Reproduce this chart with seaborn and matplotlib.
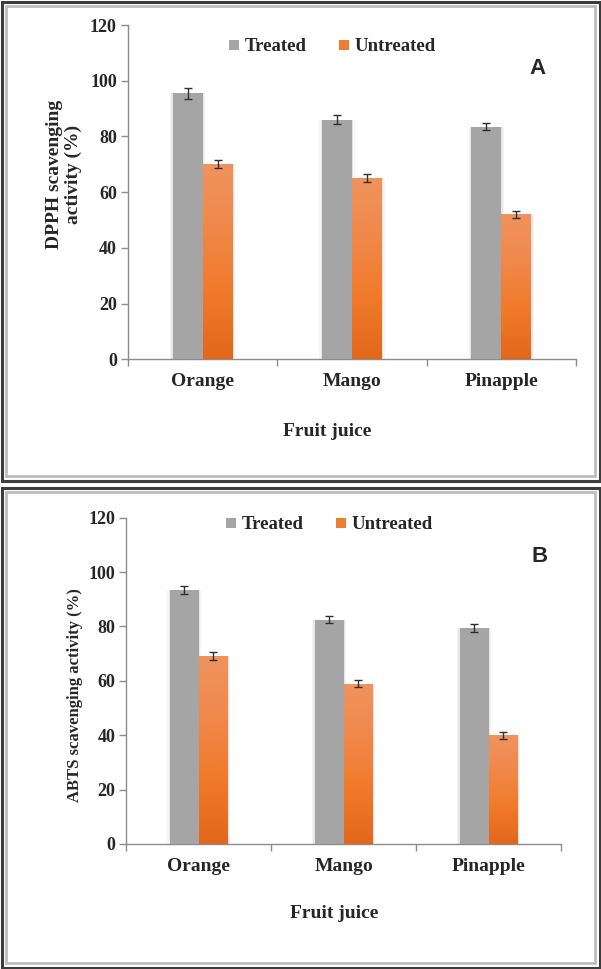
import numpy as np
import pandas as pd
import matplotlib
matplotlib.use("Agg")
import matplotlib.pyplot as plt
import seaborn as sns
from matplotlib.lines import Line2D
from matplotlib.patches import Rectangle
from matplotlib.colors import LinearSegmentedColormap

# ---------------- data ----------------
fruits = ["Orange", "Mango", "Pinapple"]
groups = ["Treated", "Untreated"]

dpph_treated = [95.5, 86.0, 83.5]
dpph_untreated = [70.0, 65.0, 52.0]
dpph_err_treated = [1.9, 1.6, 1.3]
dpph_err_untreated = [1.4, 1.4, 1.4]

abts_treated = [93.5, 82.5, 79.5]
abts_untreated = [69.0, 59.0, 40.0]
abts_err_treated = [1.4, 1.35, 1.5]
abts_err_untreated = [1.5, 1.4, 1.3]

yticks = [0, 20, 40, 60, 80, 100, 120]

# ---------------- style ----------------
sns.set_theme(style="white")
plt.rcParams["font.family"] = ["Liberation Serif", "DejaVu Serif"]

W, H = 601, 969
fig = plt.figure(figsize=(W / 100, H / 100), dpi=100, facecolor="white")

GRAY = "#A5A5A5"
ORANGE = "#EE7D31"
AXCOL = "#8c8c8c"
orange_cmap = LinearSegmentedColormap.from_list(
    "og", ["#E2671B", "#F07A29", "#F0884A", "#F0935E"])


def fx(x):
    return x / W


def fy(y):
    return 1 - y / H


def axes_px(left, top, right, bottom):
    return fig.add_axes([fx(left), fy(bottom), (right - left) / W, (bottom - top) / H])


def draw_panel(ax, treated, untreated, et, eu, leg_xy):
    df = pd.DataFrame({
        "Fruit": fruits * 2,
        "Group": [groups[0]] * len(fruits) + [groups[1]] * len(fruits),
        "Value": list(treated) + list(untreated),
    })
    sns.barplot(data=df, x="Fruit", y="Value", hue="Group", order=fruits,
                hue_order=groups, palette={groups[0]: GRAY, groups[1]: ORANGE},
                width=0.4, errorbar=None, saturation=1, legend=False, ax=ax,
                zorder=3, linewidth=0)
    bars = list(ax.patches)
    errs = list(et) + list(eu)
    # faint side shadows
    for p in bars:
        x0, w, h = p.get_x(), p.get_width(), p.get_height()
        for k, a in [(0.018, 0.04), (0.009, 0.06)]:
            ax.add_patch(Rectangle((x0 - k, 0), w + 2 * k, h,
                                   facecolor="black", alpha=a, lw=0, zorder=2))
    # gradient for untreated bars
    grad = np.linspace(0, 1, 256).reshape(-1, 1)
    for p in bars[len(fruits):]:
        x0, w, h = p.get_x(), p.get_width(), p.get_height()
        im = ax.imshow(grad, extent=[x0, x0 + w, 0, h], origin="lower",
                       aspect="auto", cmap=orange_cmap, zorder=3.5,
                       interpolation="bilinear")
        im.set_clip_path(p)
    # error bars
    for p, e in zip(bars, errs):
        xc = p.get_x() + p.get_width() / 2
        ax.errorbar(xc, p.get_height(), yerr=e, fmt="none", ecolor="#303030",
                    elinewidth=1.0, capsize=3.2, capthick=1.0, zorder=5)

    ax.set_xlim(-0.5, len(fruits) - 0.5)
    ax.set_ylim(0, 120)
    ax.set_yticks(yticks)
    ax.set_yticklabels([str(t) for t in yticks], fontsize=13, fontweight="bold")
    ax.set_xticks(range(len(fruits)))
    ax.set_xticklabels(fruits, fontsize=14, fontweight="bold")
    ax.set_xticks(np.arange(-0.5, len(fruits)), minor=True)
    ax.tick_params(axis="x", which="major", length=0, pad=10)
    ax.tick_params(axis="x", which="minor", length=5, width=1, color=AXCOL,
                   direction="out", bottom=True)
    ax.tick_params(axis="y", length=5, width=1, color=AXCOL, direction="out",
                   pad=3, left=True)
    ax.set_xlabel("")
    ax.set_ylabel("")
    for s in ["top", "right"]:
        ax.spines[s].set_visible(False)
    for s in ["left", "bottom"]:
        ax.spines[s].set_color(AXCOL)
        ax.spines[s].set_linewidth(1.0)
    ax.set_facecolor("none")

    handles = [Line2D([], [], marker="s", ls="none", markersize=7.5,
                      markerfacecolor=c, markeredgewidth=0)
               for c in (GRAY, ORANGE)]
    ax.legend(handles, groups, ncol=2, loc="center", bbox_to_anchor=leg_xy,
              frameon=False, handlelength=0.6, handletextpad=0.25,
              columnspacing=1.7, borderpad=0,
              prop={"family": ["Liberation Serif"], "weight": "bold", "size": 13.5})


# ---------------- panel frames ----------------
def frame(top, bottom):
    fig.add_artist(Rectangle((fx(1.5), fy(bottom - 1.5)), (W - 3) / W,
                             (bottom - top - 3) / H, transform=fig.transFigure,
                             fill=False, edgecolor="#3c3c3c", lw=2.2))
    fig.add_artist(Rectangle((fx(6), fy(bottom - 6)), (W - 12) / W,
                             (bottom - top - 12) / H, transform=fig.transFigure,
                             fill=False, edgecolor="#bdbdbd", lw=2.0))


frame(0, 482)
frame(486, 969)

# ---------------- panel A ----------------
axA = axes_px(128, 25, 576, 359.3)
draw_panel(axA, dpph_treated, dpph_untreated, dpph_err_treated,
           dpph_err_untreated, (0.455, 0.935))
fig.text(fx(64), fy(174), "DPPH scavenging\nactivity (%)", rotation=90,
         ha="center", va="center", fontsize=14, fontweight="bold",
         multialignment="center", linespacing=1.15)
fig.text(fx(327), fy(432), "Fruit juice", ha="center", va="center",
         fontsize=14, fontweight="bold")
fig.text(fx(537), fy(68), "A", ha="center", va="center", fontsize=16,
         fontweight="bold", family=["Liberation Sans"])

# ---------------- panel B ----------------
axB = axes_px(126.4, 517.7, 561, 844)
draw_panel(axB, abts_treated, abts_untreated, abts_err_treated,
           abts_err_untreated, (0.467, 0.978))
fig.text(fx(75), fy(695), "ABTS scavenging activity (%)", rotation=90,
         ha="center", va="center", fontsize=12, fontweight="bold")
fig.text(fx(334), fy(914), "Fruit juice", ha="center", va="center",
         fontsize=14, fontweight="bold")
fig.text(fx(540), fy(556), "B", ha="center", va="center", fontsize=16,
         fontweight="bold", family=["Liberation Sans"])

fig.savefig("out.png", dpi=100, facecolor="white")
